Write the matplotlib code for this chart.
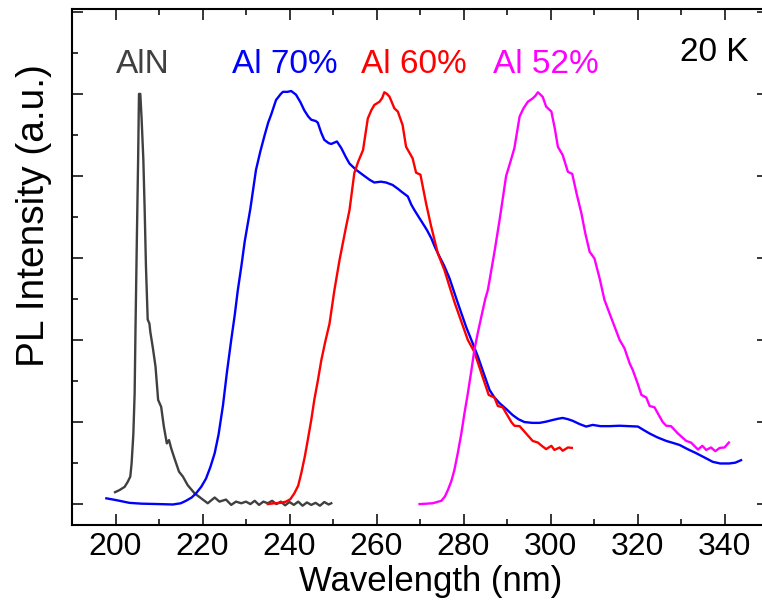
import matplotlib
matplotlib.use("Agg")
import matplotlib.pyplot as plt
from matplotlib.ticker import MultipleLocator, NullFormatter

plt.rcParams['font.family'] = ['Liberation Sans', 'DejaVu Sans']

# AlN
aln_x = [199.9, 200.9, 202.1, 202.8, 203.4, 203.7, 204.1, 204.4, 204.6, 204.9,
         205.2, 205.4, 205.7, 206.0, 206.4, 206.7, 207.0, 207.4, 207.8, 208.0,
         208.6, 209.2, 209.8, 210.5, 211.1, 211.8, 212.3, 212.8, 213.6, 214.6,
         215.5, 216.6, 218.2, 219.7, 221.2, 222.8, 223.9, 225.4, 226.6, 227.7,
         228.9, 230.0, 231.0, 232.0, 233.0, 234.0, 235.0, 236.0, 237.0, 238.0,
         239.0, 240.0, 241.0, 242.0, 243.0, 244.0, 245.0, 246.0, 247.0, 248.0,
         249.0, 249.6]
aln_y = [0.029, 0.034, 0.042, 0.054, 0.067, 0.099, 0.17, 0.27, 0.43, 0.64,
         0.84, 1.0, 1.0, 0.94, 0.84, 0.72, 0.58, 0.45, 0.44, 0.42,
         0.38, 0.335, 0.254, 0.237, 0.19, 0.148, 0.156, 0.136, 0.11, 0.079,
         0.067, 0.046, 0.026, 0.014, 0.002, 0.016, 0.006, 0.011, -0.002, 0.006,
         0.002, 0.006, 0.0, 0.008, -0.002, 0.006, 0.002, 0.008, 0.0, 0.006,
         -0.003, 0.005, -0.002, 0.006, -0.004, 0.004, -0.002, 0.003, -0.004, 0.005,
         -0.001, 0.002]

# Al 70%
al70_x = [197.9, 200.0, 203.2, 206.0, 210.0, 213.2, 215.0, 216.2, 217.5, 218.5,
          219.7, 220.8, 221.8, 222.8, 223.7, 224.7, 225.6, 226.6, 227.4, 228.1,
          229.0, 229.7, 231.0, 232.3, 233.3, 234.3, 235.1, 235.8, 236.9, 238.0,
          238.5, 239.5, 240.4, 241.5, 242.5, 243.4, 244.3, 245.0, 246.0, 246.5,
          247.3, 248.0, 249.0, 249.6, 250.9, 251.9, 253.0, 253.8, 255.3, 257.2,
          258.5, 259.5, 261.0, 262.2, 263.7, 265.0, 265.7, 267.2, 268.0, 268.7,
          269.7, 270.6, 271.6, 272.6, 273.5, 274.5, 275.6, 276.8, 278.7, 280.6,
          282.0, 283.3, 284.6, 286.0, 287.1, 288.3, 289.8, 291.3, 292.6, 294.0,
          295.8, 297.5, 299.0, 300.5, 301.7, 302.8, 304.0, 305.1, 306.7, 308.2,
          309.7, 311.5, 313.6, 315.9, 318.0, 320.1, 321.5, 322.8, 324.5, 326.6,
          328.2, 329.7, 331.5, 333.5, 335.5, 337.3, 339.0, 341.1, 342.5, 343.8]
al70_y = [0.014, 0.01, 0.003, 0.001, 0.0, -0.001, 0.002, 0.008, 0.016, 0.026,
          0.042, 0.062, 0.09, 0.124, 0.17, 0.24, 0.32, 0.40, 0.46, 0.52,
          0.585, 0.64, 0.72, 0.815, 0.86, 0.90, 0.93, 0.95, 0.985, 1.0,
          1.005, 1.005, 1.007, 0.998, 0.98, 0.96, 0.945, 0.937, 0.934, 0.93,
          0.905, 0.888, 0.88, 0.878, 0.884, 0.868, 0.845, 0.83, 0.815, 0.80,
          0.79, 0.784, 0.786, 0.784, 0.778, 0.768, 0.762, 0.75, 0.73, 0.717,
          0.70, 0.685, 0.668, 0.648, 0.625, 0.603, 0.58, 0.55, 0.49, 0.432,
          0.395, 0.36, 0.32, 0.278, 0.26, 0.246, 0.232, 0.217, 0.207, 0.20,
          0.198, 0.198, 0.201, 0.205, 0.208, 0.21, 0.207, 0.203, 0.195, 0.189,
          0.193, 0.19, 0.19, 0.191, 0.19, 0.189, 0.18, 0.172, 0.163, 0.154,
          0.149, 0.144, 0.134, 0.124, 0.113, 0.103, 0.099, 0.099, 0.101, 0.107]

# Al 60%
al60_x = [235.0, 236.5, 238.0, 239.2, 240.2, 241.1, 242.0, 242.7, 243.5, 244.2,
          245.0, 245.7, 246.5, 247.3, 248.2, 249.2, 250.3, 251.5, 253.0, 253.8,
          254.9, 255.8, 256.9, 258.0, 258.8, 259.5, 260.7, 261.3, 261.8, 262.4,
          263.0, 264.1, 264.9, 266.0, 266.8, 268.3, 269.1, 270.1, 271.4, 272.5,
          274.1, 275.6, 276.8, 278.0, 279.1, 281.0, 282.5, 284.4, 285.8, 287.1,
          287.9, 289.0, 290.0, 291.0, 291.7, 292.9, 294.4, 295.9, 297.1, 298.0,
          299.0, 300.2, 300.9, 302.1, 302.8, 304.0, 304.9]
al60_y = [0.0, 0.002, 0.003, 0.006, 0.012, 0.026, 0.045, 0.075, 0.115, 0.156,
          0.205, 0.254, 0.30, 0.35, 0.395, 0.44, 0.52, 0.595, 0.676, 0.717,
          0.807, 0.835, 0.863, 0.94, 0.96, 0.973, 0.981, 0.99, 1.004, 1.0,
          0.993, 0.965, 0.957, 0.924, 0.871, 0.843, 0.808, 0.803, 0.733, 0.68,
          0.611, 0.571, 0.53, 0.49, 0.457, 0.40, 0.371, 0.31, 0.266, 0.26,
          0.239, 0.236, 0.218, 0.20, 0.191, 0.19, 0.172, 0.154, 0.15, 0.142,
          0.134, 0.142, 0.132, 0.138, 0.13, 0.138, 0.137]

# Al 52%
al52_x = [269.9, 271.5, 272.9, 274.9, 275.7, 276.4, 277.2, 277.9, 278.7, 279.5,
          280.2, 281.0, 281.8, 282.5, 283.3, 284.1, 285.0, 285.6, 286.0, 287.2,
          288.3, 289.8, 290.8, 291.7, 292.9, 293.8, 294.8, 295.9, 296.5, 297.1,
          298.2, 299.0, 300.2, 301.0, 301.7, 302.8, 304.0, 305.0, 306.0, 307.1,
          308.0, 309.0, 310.1, 311.3, 312.4, 314.0, 315.9, 317.0, 318.2, 318.9,
          320.0, 320.9, 322.0, 322.8, 323.9, 325.0, 325.8, 326.6, 327.7, 329.3,
          331.2, 332.3, 333.9, 334.9, 335.8, 336.9, 337.9, 338.9, 340.0, 341.0]
al52_y = [0.0, 0.001, 0.002, 0.008, 0.018, 0.034, 0.056, 0.083, 0.125, 0.172,
          0.22, 0.27, 0.325, 0.376, 0.418, 0.457, 0.50, 0.522, 0.546, 0.62,
          0.693, 0.80, 0.835, 0.868, 0.945, 0.965, 0.981, 0.989, 0.995, 1.004,
          0.993, 0.969, 0.957, 0.915, 0.871, 0.851, 0.81, 0.805, 0.757, 0.709,
          0.66, 0.615, 0.599, 0.55, 0.498, 0.453, 0.40, 0.38, 0.343, 0.327,
          0.295, 0.266, 0.26, 0.239, 0.236, 0.215, 0.20, 0.191, 0.19, 0.172,
          0.154, 0.15, 0.133, 0.142, 0.132, 0.138, 0.129, 0.137, 0.138, 0.15]

fig = plt.figure(figsize=(7.62, 6.11), dpi=100)
ax = fig.add_axes([72 / 762, 86 / 611, 696 / 762, 516 / 611])

lw = 1.7
ax.plot(aln_x, aln_y, color='#404040', lw=lw)
ax.plot(al70_x, al70_y, color='#0000ff', lw=lw)
ax.plot(al60_x, al60_y, color='#ff0000', lw=lw)
ax.plot(al52_x, al52_y, color='#ff00ff', lw=lw)

fs = 24
ax.text(206.3, 1.051, 'AlN', color='#404040', fontsize=fs, ha='center')
ax.text(238.9, 1.051, 'Al 70%', color='#0000ff', fontsize=fs, ha='center')
ax.text(268.7, 1.051, 'Al 60%', color='#ff0000', fontsize=fs, ha='center')
ax.text(299.0, 1.051, 'Al 52%', color='#ff00ff', fontsize=fs, ha='center')
ax.text(345.6, 1.080, '20 K', color='black', fontsize=fs, ha='right')

ax.set_xlim(190, 350)
ax.set_ylim(-0.051, 1.207)
ax.xaxis.set_major_locator(MultipleLocator(20))
ax.xaxis.set_minor_locator(MultipleLocator(10))
ax.yaxis.set_major_locator(MultipleLocator(0.2))
ax.yaxis.set_minor_locator(MultipleLocator(0.1))
ax.yaxis.set_major_formatter(NullFormatter())
ax.tick_params(which='both', direction='in', top=True, right=True, width=1.1)
ax.tick_params(which='major', length=8, labelsize=23, pad=5)
ax.tick_params(which='minor', length=4.5)
for s in ax.spines.values():
    s.set_linewidth(1.5)

ax.set_xlabel('Wavelength (nm)', fontsize=25)
ax.set_ylabel('PL Intensity (a.u.)', fontsize=28)
ax.xaxis.set_label_coords(0.515, -0.0775)
ax.yaxis.set_label_coords(-0.029, 0.6)

fig.savefig('out.png', dpi=100)
